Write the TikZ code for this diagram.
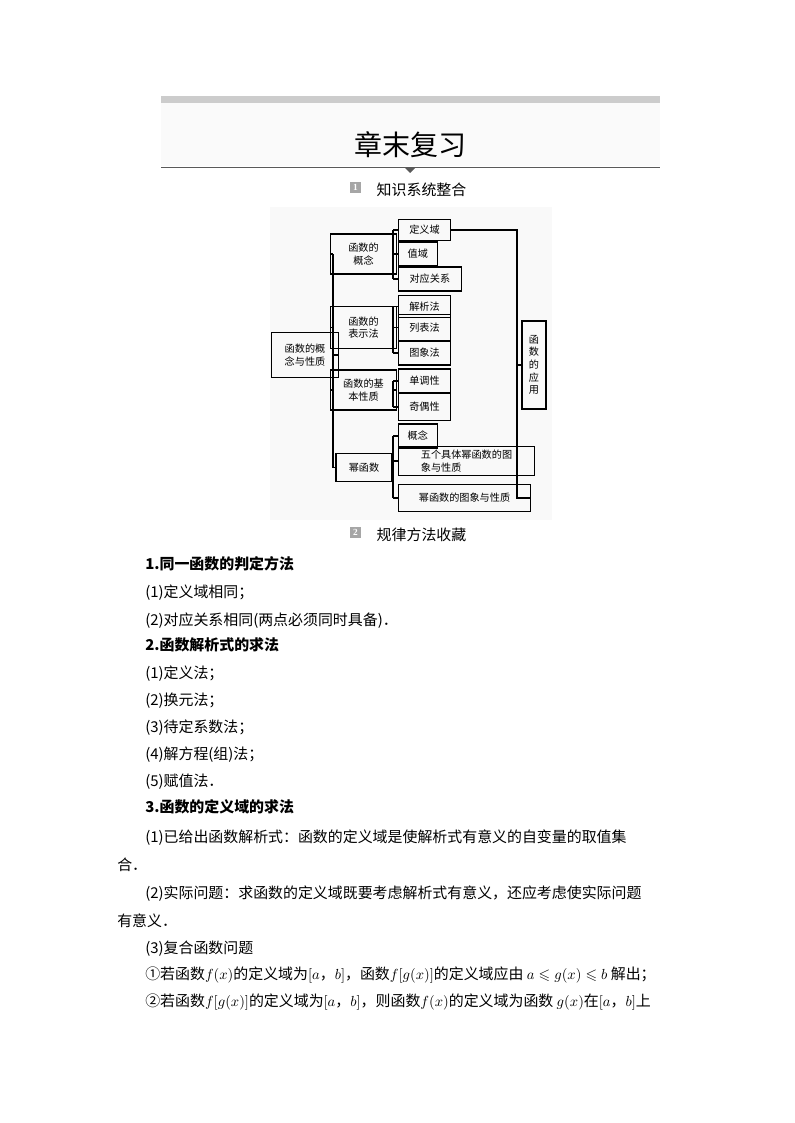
\documentclass[tikz,border=0pt]{standalone}
\usepackage{amssymb}
\usepackage{fontspec}
\setmainfont{Liberation Serif}
\newfontfamily\cjk{Noto Sans CJK SC}
\begin{document}
\begin{tikzpicture}[x=0.75pt,y=-0.75pt,
 bx/.style={draw,thick,inner sep=0pt,font=\cjk\fontsize{7.6}{9.5}\selectfont,align=center},
 ln/.style={thick},
 tx/.style={anchor=base west,inner sep=0pt,font=\cjk\fontsize{11.2}{13}\selectfont},
 hd/.style={anchor=base west,inner sep=0pt,font=\cjk\bfseries\fontsize{11.2}{13}\selectfont}]
\useasboundingbox (0,0) rectangle (794,1123);
\fill[gray!40] (161,96) rectangle (660,103);
\fill[gray!4] (161,103) rectangle (660,166);
\node[font=\cjk\fontsize{21}{24}\selectfont] (title) at (410,145) {章末复习};
\draw[gray!70!black] (161,167) -- (660,167);
\fill[gray!70!black] (405,168) -- (415,168) -- (410,173) -- cycle;
\fill[gray!70] (350,182) rectangle (361,193);
\node[white,font=\bfseries\fontsize{7}{8}\selectfont] (n1) at (355.5,187.5) {1};
\node[anchor=west,font=\cjk\fontsize{11.2}{13}\selectfont] (s1) at (372,190) {知识系统整合};
% diagram
\fill[gray!5] (270,207) rectangle (552,520);
\node[bx,minimum width=50,minimum height=34] (root) at (305,355) {函数的概\\念与性质};
\node[bx,minimum width=49,minimum height=30] (a) at (363.5,254) {函数的\\概念};
\node[bx,minimum width=49,minimum height=31] (b) at (363.5,327.5) {函数的\\表示法};
\node[bx,minimum width=49,minimum height=30] (c) at (363.5,390) {函数的基\\本性质};
\node[bx,minimum width=42,minimum height=21] (d) at (364,467.5) {幂函数};
\node[bx,minimum width=39,minimum height=16,anchor=west] (a1) at (398,230) {定义域};
\node[bx,minimum width=29,minimum height=18,anchor=west] (a2) at (398,254) {值域};
\node[bx,minimum width=47,minimum height=18,anchor=west] (a3) at (398,279) {对应关系};
\node[bx,minimum width=39,minimum height=17,anchor=west] (b1) at (398,306.5) {解析法};
\node[bx,minimum width=39,minimum height=19,anchor=west] (b2) at (398,327.5) {列表法};
\node[bx,minimum width=39,minimum height=18,anchor=west] (b3) at (398,353) {图象法};
\node[bx,minimum width=39,minimum height=18,anchor=west] (c1) at (398,381) {单调性};
\node[bx,minimum width=39,minimum height=20,anchor=west] (c2) at (398,407) {奇偶性};
\node[bx,minimum width=29,minimum height=18,anchor=west] (d1) at (398,436) {概念};
\node[bx,minimum width=102,minimum height=22,anchor=west,align=left] (d2) at (398,461) {五个具体幂函数的图\\象与性质};
\node[bx,minimum width=99,minimum height=20,anchor=west] (d3) at (398,498) {幂函数的图象与性质};
\node[bx,minimum width=18,minimum height=66] (e) at (534,365) {函\\数\\的\\应\\用};
\draw[ln] (root.east) -- (333,355);
\draw[ln] (333,254) -- (333,467.5);
\foreach \n in {a,b,c,d} \draw[ln] (333,0 |- \n.west) -- (\n.west);
\draw[ln] (a.east) -- (393,254); \draw[ln] (393,230)--(393,279);
\foreach \n in {a1,a2,a3} \draw[ln] (393,0 |- \n.west) -- (\n.west);
\draw[ln] (b.east) -- (393,327.5); \draw[ln] (393,306.5)--(393,353);
\foreach \n in {b1,b2,b3} \draw[ln] (393,0 |- \n.west) -- (\n.west);
\draw[ln] (c.east) -- (393,390); \draw[ln] (393,381)--(393,407);
\foreach \n in {c1,c2} \draw[ln] (393,0 |- \n.west) -- (\n.west);
\draw[ln] (d.east) -- (393,467.5); \draw[ln] (393,436)--(393,498);
\foreach \n in {d1,d2,d3} \draw[ln] (393,0 |- \n.west) -- (\n.west);
\draw[ln] (a1.east) -- (517,230) -- (517,498) -- (d3.east);
\draw[ln] (517,365) -- (e.west);
% section 2
\fill[gray!70] (350,527) rectangle (361,538);
\node[white,font=\bfseries\fontsize{7}{8}\selectfont] (n2) at (355.5,532.5) {2};
\node[anchor=west,font=\cjk\fontsize{11.2}{13}\selectfont] (s2) at (372,535) {规律方法收藏};
\node[hd] (l1) at (145,569) {1.同一函数的判定方法};
\node[tx] (l2) at (145,597) {(1)定义域相同；};
\node[tx] (l3) at (145,625) {(2)对应关系相同(两点必须同时具备)．};
\node[hd] (l4) at (145,650) {2.函数解析式的求法};
\node[tx] (l5) at (145,678) {(1)定义法；};
\node[tx] (l6) at (145,705) {(2)换元法；};
\node[tx] (l7) at (145,732) {(3)待定系数法；};
\node[tx] (l8) at (145,759) {(4)解方程(组)法；};
\node[tx] (l9) at (145,786) {(5)赋值法．};
\node[hd] (l10) at (145,812) {3.函数的定义域的求法};
\node[tx] (l11) at (145,842) {(1)已给出函数解析式：函数的定义域是使解析式有意义的自变量的取值集};
\node[tx] (l12) at (117,870) {合．};
\node[tx] (l13) at (145,898) {(2)实际问题：求函数的定义域既要考虑解析式有意义，还应考虑使实际问题};
\node[tx] (l14) at (117,926) {有意义．};
\node[tx] (l15) at (145,953) {(3)复合函数问题};
\node[tx] (l16) at (145,979) {①若函数$f(x)$的定义域为$[a$，$b]$，函数$f[g(x)]$的定义域应由 $a\leqslant g(x)\leqslant b$ 解出；};
\node[tx] (l17) at (145,1006) {②若函数$f[g(x)]$的定义域为$[a$，$b]$，则函数$f(x)$的定义域为函数 $g(x)$在$[a$，$b]$上};
\end{tikzpicture}
\end{document}
